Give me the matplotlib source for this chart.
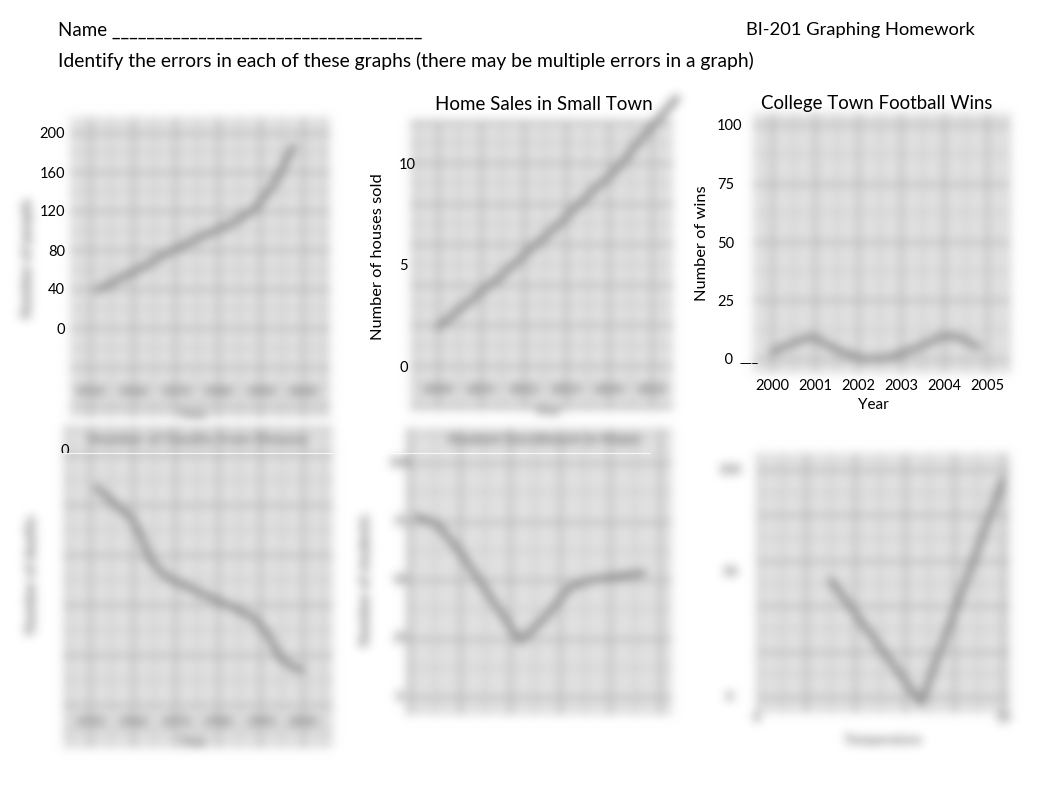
import numpy as np
import matplotlib
matplotlib.use('Agg')
import matplotlib.pyplot as plt
from matplotlib.lines import Line2D
from matplotlib.ticker import MultipleLocator
from matplotlib.transforms import Bbox, TransformedBbox, blended_transform_factory

plt.rcParams['font.family'] = ['Lato', 'DejaVu Sans']

W, H = 1062, 797

# values read off the worksheet
# top left (no title)
tl_x = [0.16, 1.01, 1.81, 2.58, 3.36, 3.83, 4.23, 4.53, 4.77]
tl_y = [39, 57, 77, 93, 108, 121, 142, 165, 186]
tl_yticks = [0, 40, 80, 120, 160, 200]
tl_xlabels = ['1950', '1960', '1970', '1980', '1990', '2000']

# home sales in small town
hs_x = [0.0, 0.68, 1.45, 2.08, 2.78, 3.55, 4.18, 4.79, 5.58]
hs_y = [1.9, 3.1, 4.4, 5.6, 6.9, 8.5, 9.7, 11.3, 13.2]
hs_yticks = [0, 5, 10]
hs_xlabels = ['2000', '2001', '2002', '2003', '2004', '2005']

# college town football wins
fw_year = [2000.0, 2000.5, 2000.95, 2001.5, 2002.1, 2002.7, 2003.4, 2004.0, 2004.4, 2004.8]
fw_wins = [3, 7, 9.5, 4, 0, 0.5, 5, 10, 9, 5]
fw_years = [2000, 2001, 2002, 2003, 2004, 2005]
fw_yticks = [0, 25, 50, 75, 100]
fw_ylabels = ['  0', '25', '50', '75', '100']

# bottom left
bl_x = [0.16, 1.01, 1.24, 1.41, 1.81, 2.58, 3.36, 3.83, 4.15, 4.46, 4.77, 4.98]
bl_y = [87, 74, 66, 58, 51, 45, 39, 35, 29, 19, 15, 14]
bl_xlabels = ['1950', '1960', '1970', '1980', '1990', '2000']

# bottom middle
bm_x = [0.28, 1.08, 2.0, 3.2, 4.4, 5.32, 6.4, 7.2, 9.32]
bm_y = [77, 74, 62, 43, 24, 33, 47, 50, 53]
bm_yticks = [0, 25, 50, 75, 100]

# bottom right
br_x = [3.0, 6.67, 10.0]
br_y = [51.5, -2.5, 95.6]
br_yticks = [0, 55, 100]
br_ylabels = ['0', '50', '100']
br_xticks = [0, 10]

BG = '#e1e1e1'
GMAJ = '#b0b0b0'
GMIN = '#c6c6c6'
LINE = '#8a8a8a'
FUZZ = '#858585'


def make_blur(sigma):
    r = int(3 * sigma) + 1
    k = np.exp(-0.5 * (np.arange(-r, r + 1) / sigma) ** 2)
    k /= k.sum()

    def blur(img, dpi):
        a = np.pad(img, ((r, r), (r, r), (0, 0))).astype(float)
        a[..., :3] *= a[..., 3:4]
        h, w = a.shape[:2]
        ap = np.pad(a, ((r, r), (0, 0), (0, 0)))
        t = np.zeros_like(a)
        for i, kv in enumerate(k):
            t += kv * ap[i:i + h]
        tp = np.pad(t, ((0, 0), (r, r), (0, 0)))
        out = np.zeros_like(a)
        for i, kv in enumerate(k):
            out += kv * tp[:, i:i + w]
        al = out[..., 3:4]
        out[..., :3] = np.where(al > 1e-4, out[..., :3] / np.maximum(al, 1e-4), 0)
        return np.clip(out, 0, 1), -r, -r
    return blur


blur = make_blur(4.8)

fig = plt.figure(figsize=(W / 100, H / 100), dpi=100)
fig.patch.set_facecolor('white')


def fx(x):
    return x / W


def fy(y):
    return 1 - y / H


def panel(box, xcal, ycal, xmaj, ymaj):
    x0, y0, x1, y1 = box
    ax = fig.add_axes([fx(x0), fy(y1), (x1 - x0) / W, (y1 - y0) / H])
    (pa, va), (pb, vb) = xcal
    s = (vb - va) / (pb - pa)
    ax.set_xlim(va + (x0 - pa) * s, va + (x1 - pa) * s)
    (pa, va), (pb, vb) = ycal
    s = (vb - va) / (pa - pb)
    ax.set_ylim(va + (pa - y1) * s, va + (pa - y0) * s)
    ax.set_facecolor(BG)
    for sp in ax.spines.values():
        sp.set_visible(False)
    ax.xaxis.set_major_locator(MultipleLocator(xmaj))
    ax.xaxis.set_minor_locator(MultipleLocator(xmaj / 2))
    ax.yaxis.set_major_locator(MultipleLocator(ymaj))
    ax.yaxis.set_minor_locator(MultipleLocator(ymaj / 2))
    ax.tick_params(which='both', length=0, labelbottom=False, labelleft=False)
    ax.grid(True, which='major', color=GMAJ, lw=2.0)
    ax.grid(True, which='minor', color=GMIN, lw=1.4)
    ax.set_axisbelow(True)
    ax.set_agg_filter(blur)
    return ax


def overlay(ax):
    c = fig.add_axes(ax.get_position())
    c.set_xlim(ax.get_xlim())
    c.set_ylim(ax.get_ylim())
    c.patch.set_visible(False)
    for sp in c.spines.values():
        sp.set_visible(False)
    c.tick_params(length=0, labelsize=10.5)
    c.set_xticks([])
    c.set_yticks([])
    return c


def fuzz(ax, x, y, s, **kw):
    kw.setdefault('fontsize', 9.5)
    return ax.text(fx(x), fy(y), s, transform=fig.transFigure, color=FUZZ,
                   fontweight='heavy', ha='center', va='center', **kw)


def fuzz_xticks(ax, ticks, labels, y):
    tr = blended_transform_factory(ax.transData, fig.transFigure)
    for t, lab in zip(ticks, labels):
        ax.text(t, fy(y), lab, transform=tr, color=FUZZ, fontweight='heavy',
                fontsize=9.5, ha='center', va='center')


def fuzz_yticks(ax, ticks, labels, x):
    tr = blended_transform_factory(fig.transFigure, ax.transData)
    for t, lab in zip(ticks, labels):
        ax.text(fx(x), t, lab, transform=tr, color=FUZZ, fontweight='heavy',
                fontsize=9.5, ha='center', va='center')


# header
fig.text(fx(58), fy(30), 'Name ' + '_' * 36, fontsize=13.5, va='center')
fig.text(fx(975), fy(30), 'BI-201 Graphing Homework', fontsize=13.2, va='center', ha='right')
fig.text(fx(58), fy(61), 'Identify the errors in each of these graphs '
         '(there may be multiple errors in a graph)', fontsize=13.9, va='center')

# top left
b1 = panel((70, 117, 330, 418), ((90, 0), (303, 5)), ((328, 0), (133, 200)), 1, 40)
b1.plot(tl_x, tl_y, color=LINE, lw=4.5, solid_capstyle='round')
fuzz_xticks(b1, range(6), tl_xlabels, 392)
fuzz(b1, 193, 415, 'Year')
fuzz(b1, 27, 258, 'Number of people', rotation=90, fontsize=10.5)
c1 = overlay(b1)
c1.set_yticks(tl_yticks)
c1.tick_params(axis='y', pad=3.6)

# top middle
b2 = panel((410, 120, 673, 410), ((438, 0), (652, 5)), ((366, 0), (163, 10)), 1, 2)
b2.plot(hs_x, hs_y, color=LINE, lw=4.5, solid_capstyle='round', clip_on=False)
fuzz_xticks(b2, range(6), hs_xlabels, 390)
fuzz(b2, 547, 411, 'Year')
c2 = overlay(b2)
c2.set_yticks(hs_yticks)
c2.tick_params(axis='y', pad=7.9)
for lab in c2.get_yticklabels():
    lab.set_horizontalalignment('left')
fig.text(fx(544), fy(105), 'Home Sales in Small Town', fontsize=13.5, ha='center', va='center')
fig.text(fx(378), fy(257), 'Number of houses sold', fontsize=11.8, ha='center',
         va='center', rotation=90)

# top right
b3 = panel((753, 113, 1010, 373), ((772, 2000), (987, 2005)), ((359, 0), (125, 100)), 1, 25)
b3.plot(fw_year, fw_wins, color=LINE, lw=4.5, solid_capstyle='round')
c3 = overlay(b3)
c3.set_yticks(fw_yticks, fw_ylabels)
c3.set_xticks(fw_years)
c3.tick_params(axis='y', pad=26)
for lab in c3.get_yticklabels():
    lab.set_horizontalalignment('left')
c3.tick_params(axis='x', pad=4.3)
fig.text(fx(877), fy(103), 'College Town Football Wins', fontsize=13.4, ha='center', va='center')
fig.text(fx(702), fy(243), 'Number of wins', fontsize=11.8, ha='center', va='center',
         rotation=90)
fig.text(fx(873), fy(405), 'Year', fontsize=11, ha='center', va='center')
fig.text(fx(740), fy(362), '___', fontsize=10, ha='left', va='baseline')

# bottom left
b4 = panel((63, 425, 333, 748), ((90, 0), (303, 5)), ((705, 0), (455, 100)), 1, 20)
b4.plot(bl_x, bl_y, color=LINE, lw=4.5, solid_capstyle='round')
fuzz_xticks(b4, range(6), bl_xlabels, 722)
fuzz(b4, 193, 742, 'Year')
fuzz(b4, 198, 440, 'Number of Deaths from Disease', fontsize=11)
fuzz(b4, 32, 575, 'Number of deaths', rotation=90, fontsize=10.5)

# bottom middle
b5 = panel((405, 428, 672, 715), ((410, 0), (660, 10)), ((697, 0), (463, 100)), 2, 25)
b5.plot(bm_x, bm_y, color=LINE, lw=4.5, solid_capstyle='round')
fuzz_yticks(b5, bm_yticks, [str(v) for v in bm_yticks], 400)
fuzz(b5, 545, 440, 'Student Enrollment in Major', fontsize=11)
fuzz(b5, 365, 580, 'Number of students', rotation=90, fontsize=10.5)

# bottom right
b6 = panel((757, 453, 1010, 713), ((757, 0), (1003, 10)), ((697, 0), (470, 100)), 2, 20)
b6.plot(br_x, br_y, color=LINE, lw=4.5, solid_capstyle='round')
fuzz_yticks(b6, br_yticks, br_ylabels, 730)
fuzz_xticks(b6, br_xticks, [str(v) for v in br_xticks], 718)
fuzz(b6, 883, 740, 'Temperature')

# stray edges left on the page
fig.add_artist(Line2D([fx(63), fx(333)], [fy(453), fy(453)], color='white', lw=0.8, alpha=0.8))
fig.add_artist(Line2D([fx(390), fx(650)], [fy(453), fy(453)], color='white', lw=0.8, alpha=0.8))
zero = fig.text(fx(65), fy(451), '0', fontsize=10.5, ha='center', va='center')
zero.set_clip_box(TransformedBbox(Bbox.from_extents(0, fy(453), 1, 1), fig.transFigure))

fig.savefig('out.png', dpi=100, facecolor='white')
